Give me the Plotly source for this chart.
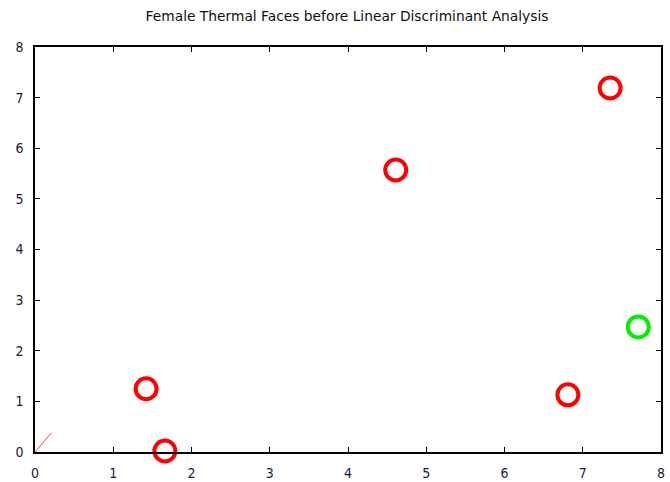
import plotly.graph_objects as go

# Projected samples (class 1 = red, class 2 = green)
class1_x = [1.42, 1.66, 4.61, 6.81, 7.35]
class1_y = [1.25, 0.02, 5.57, 1.13, 7.19]
class2_x = [7.71]
class2_y = [2.47]

# Short direction segment from the origin
seg_x = [0.0, 0.21]
seg_y = [0.0, 0.38]

x_ticks = [0, 1, 2, 3, 4, 5, 6, 7, 8]
y_ticks = [0, 1, 2, 3, 4, 5, 6, 7, 8]

tick_family = "DejaVu Sans Condensed, DejaVu Sans, sans-serif"
title_family = "DejaVu Sans, sans-serif"

fig = go.Figure()
fig.add_trace(go.Scatter(
    x=seg_x, y=seg_y, mode="lines",
    line=dict(color="rgba(255,40,40,0.85)", width=1),
    hoverinfo="skip", cliponaxis=False,
))
fig.add_trace(go.Scatter(
    x=class1_x, y=class1_y, mode="markers",
    marker=dict(symbol="circle-open", size=21, color="#ff0000",
                line=dict(width=4, color="#ff0000")),
    cliponaxis=False,
))
fig.add_trace(go.Scatter(
    x=class2_x, y=class2_y, mode="markers",
    marker=dict(symbol="circle-open", size=21, color="#00ee00",
                line=dict(width=4, color="#00ee00")),
    cliponaxis=False,
))

axis_common = dict(
    showgrid=False, zeroline=False, automargin=False,
    showline=True, linecolor="black", linewidth=1.5, mirror="ticks",
    ticks="inside", ticklen=5, tickcolor="black", tickwidth=1,
    tickfont=dict(family=tick_family, size=14, color="#1a1a3a"),
)

fig.update_layout(
    width=670, height=482,
    margin=dict(l=35, r=9, t=47, b=30),
    paper_bgcolor="white", plot_bgcolor="white",
    showlegend=False,
    title=dict(
        text="Female Thermal Faces before Linear Discriminant Analysis",
        x=0.518, xanchor="center", y=0.967, yanchor="middle",
        font=dict(family=title_family, size=13.8, color="#111111"),
    ),
    xaxis=dict(range=[0, 8], tickvals=x_ticks, ticktext=[str(v) for v in x_ticks],
               ticklabelstandoff=7, **axis_common),
    yaxis=dict(range=[0, 8], tickvals=y_ticks, ticktext=[str(v) for v in y_ticks],
               ticklabelstandoff=7, **axis_common),
)

fig.write_html("out.html")
